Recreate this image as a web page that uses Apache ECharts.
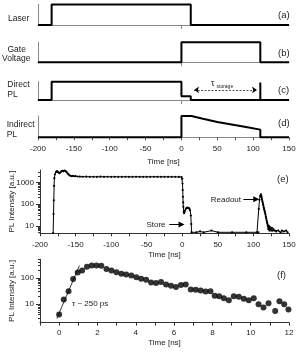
<!DOCTYPE html>
<html><head><meta charset="utf-8">
<script src="https://cdn.jsdelivr.net/npm/echarts@6/dist/echarts.min.js"></script>
<style>html,body{margin:0;padding:0;background:#fff}#c{width:300px;height:352px}</style>
</head><body><div id="c"></div>
<script>
// ---------- data ----------
const laser = [[-200,0],[-181,0],[-181,1],[13,1],[13,0],[150,0]];
const gate = [[-200,0],[0,0],[0,1],[110,1],[110,0],[150,0]];
const directPL = [[-200,0],[-181,0],[-181,1],[0,1],[0,0.2],[13,0.2],[13,0],[110,0],[110,0.95],[110,0],[150,0]];
const indirectPL = [[-200,0],[0,0],[0,1],[14,1],[30,0.87],[50,0.72],[70,0.6],[90,0.48],[110,0.36],[110,0],[150,0]];
const storageArrow = [[17.6,0.55],[105.4,0.55]];

const plTime = [
[-181.5,4.6],[-181,35],[-180.6,150],[-180.2,700],[-179.8,1600],[-179,2400],[-177.5,3100],[-176,3400],[-174.5,3000],[-173,2700],[-171.5,2900],[-170,3300],[-168.5,3500],[-167,3300],[-165.5,3600],[-164,3400],[-162.5,3000],[-161,2600],[-159.5,2300],[-158,2100],[-156,2000],[-154,2050],[-152,1950],[-150,2000],[-147,1900],[-144,1880],[-140,1850],[-135,1870],[-130,1840],[-125,1850],[-120,1830],[-115,1860],[-110,1840],[-105,1850],[-100,1830],[-95,1850],[-90,1840],[-85,1830],[-80,1850],[-75,1840],[-70,1830],[-65,1850],[-60,1840],[-55,1830],[-50,1840],[-45,1830],[-40,1850],[-35,1840],[-30,1830],[-25,1840],[-20,1830],[-15,1840],[-10,1830],[-5,1820],[-1,1800],
[0,1500],[0.3,900],[0.6,450],[0.9,220],[1.2,120],[1.5,75],[2,45],[2.5,38],[3,42],[4,50],[5,60],[6,66],[7,70],[8,68],[9,66],[10,62],[11,52],[12,30],[12.6,12],[13,5],
[20,5],[25,5.5],[30,5],[41,6],[50,5],[70,5],[90,5],[105,5],[107,5],
[107.5,60],[108.5,160],[109.5,240],[110.5,285],[111,250],[111.5,210],[112,170],[112.5,140],[113,120],[113.5,100],[114,85],[114.5,70],[115,60],[115.5,52],[116,45],[116.5,38],[117,32],[117.5,26],[118,22],[118.5,18],[119,15],[119.5,13],[120,11],[120.5,9],[121,7],[121.5,10],[122,8],[122.5,6],[123,9],[124,7],[125,6],[126,8],[127,6],[128,7],[130,6],[132,5.5],[135,6],[138,5],[140,6],[143,5.5],[146,6],[148,5]
];
const readoutArrow = [[85.9,171],[104,171]];
const storeArrow = [[-18.3,11.6],[-1,11.6]];

const fastPL = [
[0,4.1],[0.24,15],[0.49,31],[0.73,89],[0.97,158],[1.2,188],[1.45,262],[1.7,290],[1.95,290],[2.2,285],[2.47,217],[2.73,188],[2.99,162],[3.25,141],[3.5,133],[3.77,122],[4.03,105],[4.28,92],[4.54,84],[4.8,67],[5.06,63],[5.32,69],[5.58,56],[5.84,50],[6.1,45],[6.36,53],[6.61,56],[6.87,36],[7.13,35],[7.39,33],[7.65,30],[7.9,31],[8.12,21],[8.36,20],[8.6,17],[8.86,14],[9.12,20],[9.38,19],[9.64,16],[9.9,14],[10.16,17],[10.41,10],[10.67,7.5],[10.93,11],[11.28,5.6],[11.5,13],[11.75,10],[11.97,6.3]
];
const fitLine = [[-0.12,2.9],[1.06,290]];

const eTickLabels = [10,100,1000];
const eMinorTicks = [5,6,7,8,9,20,30,40,50,60,70,80,90,200,300,400,500,600,700,800,900,2000,3000];
const fTickLabels = [10,100];
const fMinorTicks = [3,4,5,6,7,8,9,20,30,40,50,60,70,80,90,200,300,400,500];

// ---------- chart ----------
const FONT = '"Liberation Sans", Arial, sans-serif';
const TXT = '#222';
const AX = '#888';
const L = 38, R = 11;
const grids = [
  {left:L, right:R, top:4.5, height:20.5},
  {left:L, right:R, top:42.3, height:20},
  {left:L, right:R, top:81.7, height:18.3},
  {left:L, right:R, top:116, height:21.3},
  {left:L, right:R, top:170, height:63.3},
  {left:L, right:R, top:259.3, height:63.4}
];
const lab = {fontSize:8, fontFamily:FONT, color:TXT};
const name50 = v => (v % 50 === 0 ? String(v) : '');

const xAxis = [];
const yAxis = [];
for (let i = 0; i < 4; i++) {
  xAxis.push({gridIndex:i, type:'value', min:-200, max:150, interval:25, position:'bottom',
    axisLine:{onZero:false, lineStyle:{color:AX, width:1}},
    axisTick: i === 3 ? {length:3, lineStyle:{color:'#555'}} : {customValues:[0], length:4, lineStyle:{color:AX}},
    axisLabel: i === 3 ? Object.assign({margin:7, formatter:name50}, lab) : {show:false},
    splitLine:{show:false},
    name: i === 3 ? 'Time [ns]' : '', nameLocation:'middle', nameGap:20.5,
    nameTextStyle:{fontSize:8, fontFamily:FONT, color:TXT}});
  yAxis.push({gridIndex:i, type:'value', min:0, max:1, position:'left',
    axisLine:{show:true, onZero:false, lineStyle:{color:AX, width:1}},
    axisTick:{show:false}, axisLabel:{show:false}, splitLine:{show:false}});
}
// (e)
xAxis.push({gridIndex:4, type:'value', min:-200, max:150, interval:25, position:'bottom',
  axisLine:{onZero:false, lineStyle:{color:'#333'}}, axisTick:{length:3, lineStyle:{color:'#333'}},
  axisLabel:Object.assign({margin:7, formatter:name50}, lab), splitLine:{show:false},
  name:'Time [ns]', nameLocation:'middle', nameGap:17.5, nameTextStyle:{fontSize:8, fontFamily:FONT, color:TXT}});
// (f)
xAxis.push({gridIndex:5, type:'value', min:-1, max:12, interval:1, position:'bottom',
  axisLine:{onZero:false, lineStyle:{color:'#333'}}, axisTick:{length:3, lineStyle:{color:'#333'}},
  axisLabel:Object.assign({margin:6, formatter: v => (v % 2 === 0 ? String(v) : '')}, lab), splitLine:{show:false},
  name:'Time [ns]', nameLocation:'middle', nameGap:16, nameTextStyle:{fontSize:8, fontFamily:FONT, color:TXT}});

function logPanel(gi, mn, mx, majors, minors) {
  const lmn = Math.log10(mn), lmx = Math.log10(mx);
  const base = yAxis.length;
  yAxis.push({gridIndex:gi, type:'log', logBase:10, min:mn, max:mx, position:'left',
    axisLine:{show:true, onZero:false, lineStyle:{color:'#333'}}, axisTick:{show:false}, axisLabel:{show:false},
    splitLine:{show:false}, minorTick:{show:false},
    name:'PL Intensity [a.u.]', nameLocation:'middle', nameGap:24, nameRotate:90,
    nameTextStyle:{fontSize:8, fontFamily:FONT, color:TXT}});
  yAxis.push({gridIndex:gi, type:'value', min:lmn, max:lmx, position:'left',
    axisLine:{show:false, onZero:false}, splitLine:{show:false},
    axisTick:{show:true, length:4, customValues:majors.map(v => Math.log10(v)), lineStyle:{color:'#333'}},
    axisLabel:Object.assign({show:true, margin:6, customValues:majors.map(v => Math.log10(v)),
      formatter: v => String(Math.round(Math.pow(10, v)))}, lab)});
  yAxis.push({gridIndex:gi, type:'value', min:lmn, max:lmx, position:'left',
    axisLine:{show:false, onZero:false}, splitLine:{show:false},
    axisTick:{show:true, length:2, customValues:minors.map(v => Math.log10(v)), lineStyle:{color:'#333'}},
    axisLabel:{show:false}});
  return base;
}
const eY = logPanel(4, 4.5, 3800, eTickLabels, eMinorTicks);
const fY = logPanel(5, 2, 500, fTickLabels, fMinorTicks);

const sig = (i, data, extra) => Object.assign({type:'line', xAxisIndex:i, yAxisIndex:i, data:data,
  symbol:'none', clip:false, lineStyle:{color:'#000', width:2}, silent:true}, extra || {});

const series = [
  sig(0, laser), sig(1, gate),
  sig(2, directPL, {markLine:{silent:true, symbol:['arrow','arrow'], symbolSize:5, label:{show:false},
    lineStyle:{type:[2,1.5], color:'#000', width:0.7}, data:[[{coord:storageArrow[0]},{coord:storageArrow[1]}]]}}),
  sig(3, indirectPL),
  {type:'line', xAxisIndex:4, yAxisIndex:eY, data:plTime, symbol:'circle', symbolSize:2.2, showAllSymbol:true,
    itemStyle:{color:'#000'}, lineStyle:{color:'#000', width:1}, silent:true,
    markLine:{silent:true, symbol:['none','triangle'], symbolSize:6, label:{show:false},
      lineStyle:{type:'solid', color:'#000', width:1},
      data:[[{coord:readoutArrow[0]},{coord:readoutArrow[1]}],[{coord:storeArrow[0]},{coord:storeArrow[1]}]]}},
  {type:'line', xAxisIndex:5, yAxisIndex:fY, data:fitLine, symbol:'none', lineStyle:{color:'#000', width:0.8}, silent:true},
  {type:'scatter', xAxisIndex:5, yAxisIndex:fY, data:fastPL, symbol:'circle', symbolSize:6, itemStyle:{color:'#000'}, silent:true}
];

const t = (text, x, y, size, align, extra) => ({type:'text', silent:true, style:Object.assign({text:text, x:x, y:y,
  fill:TXT, fontSize:size, fontFamily:FONT, align:align || 'left', verticalAlign:'middle'}, extra || {})});

const graphic = [
  t('Laser', 8, 19, 8.5), t('Gate', 7.5, 50, 8.5), t('Voltage', 2, 58.5, 8.5),
  t('Direct', 7.3, 85, 8.5), t('PL', 7.3, 94.5, 8.5),
  t('Indirect', 6.7, 125, 8.5), t('PL', 6.7, 135, 8.5),
  t('(a)', 278, 15, 9.5), t('(b)', 278, 53.3, 9.5), t('(c)', 278, 90, 9.5), t('(d)', 278, 123.3, 9.5),
  t('(e)', 277, 179, 9.5), t('(f)', 277, 275, 9.5),
  t('\u03c4', 211, 84, 9), t('storage', 216.5, 86.5, 5),
  t('Readout', 241, 199.3, 8, 'right'), t('Store', 165.5, 224.3, 8, 'right'),
  t('\u03c4 ~ 250 ps', 72, 304, 8)
];

const chart = echarts.init(document.getElementById('c'), null, {renderer:'canvas'});
chart.setOption({animation:false, backgroundColor:'#fff', grid:grids, xAxis:xAxis, yAxis:yAxis, series:series, graphic:graphic});
</script></body></html>
